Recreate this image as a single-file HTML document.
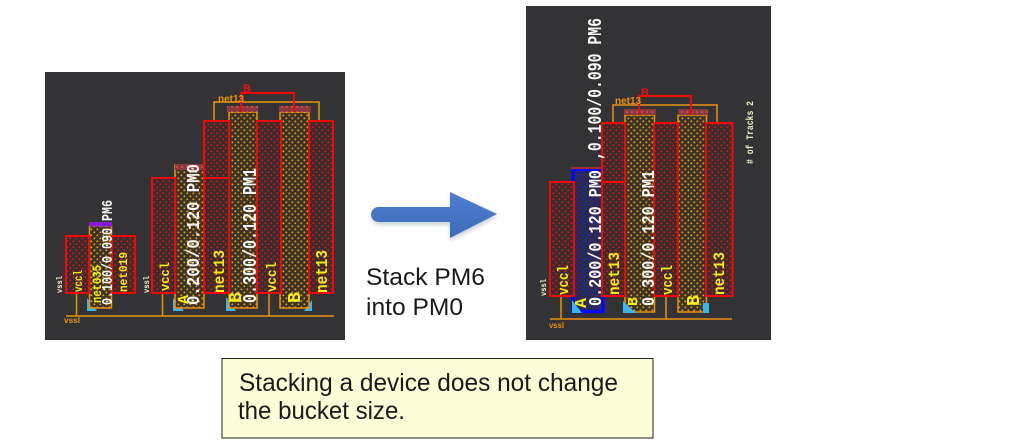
<!DOCTYPE html>
<html>
<head>
<meta charset="utf-8">
<style>
html,body{margin:0;padding:0;background:#fff;width:1013px;height:441px;overflow:hidden}
svg{display:block}
.w{font-family:"Liberation Mono",monospace;font-weight:bold;fill:#f8f8f2}
.y{font-family:"Liberation Mono",monospace;font-weight:bold;fill:#f6ee10}
.s{font-family:"Liberation Sans",sans-serif;fill:#1a1a1a}
.c{font-family:"Liberation Mono",monospace;font-weight:bold;fill:#f2f0c4}
</style>
</head>
<body>
<svg width="1013" height="441" viewBox="0 0 1013 441" xmlns="http://www.w3.org/2000/svg">
<defs>
<pattern id="o" width="6" height="6" patternUnits="userSpaceOnUse"><rect width="6" height="6" fill="#38322b"/><rect x="0.5" y="0.5" width="1.7" height="1.7" fill="#f09c08"/><rect x="3.5" y="3.5" width="1.7" height="1.7" fill="#f09c08"/></pattern>
<pattern id="r" width="6" height="6" patternUnits="userSpaceOnUse"><rect width="6" height="6" fill="#382c2d"/><rect x="0.5" y="0.5" width="1.6" height="1.6" fill="#e81414"/><rect x="3.5" y="3.5" width="1.6" height="1.6" fill="#e81414"/></pattern>
<pattern id="b" width="6" height="6" patternUnits="userSpaceOnUse"><rect width="6" height="6" fill="#2c2c40"/><rect x="0.5" y="0.5" width="1.7" height="1.7" fill="#1c1cf0"/><rect x="3.5" y="3.5" width="1.7" height="1.7" fill="#1c1cf0"/></pattern>
<pattern id="h" width="5" height="5" patternUnits="userSpaceOnUse"><rect width="5" height="5" fill="#8a3a3c"/><rect x="1" y="1" width="2" height="2" fill="#c24a4a"/></pattern>
<linearGradient id="ag" x1="0" y1="0" x2="0" y2="1"><stop offset="0" stop-color="#4f7fd0"/><stop offset="1" stop-color="#3f6cbc"/></linearGradient>
<filter id="bl" x="-10%" y="-20%" width="120%" height="140%"><feGaussianBlur stdDeviation="2"/></filter>
</defs>

<!-- LEFT PANEL -->
<rect x="45" y="72" width="300" height="268" fill="#333335"/>
<g fill="none" stroke="#e8920c" stroke-width="1.5">
<path d="M66 316H334M76.500 293V316M162.500 293V316M269 293V316"/>
<path d="M214 121V102H319V121"/>
</g>
<polygon points="87,298 87,311 97,311" fill="#38b8f0"/>
<polygon points="173,298 173,311 184,311" fill="#38b8f0"/>
<polygon points="226,297 226,311 236,311" fill="#38b8f0"/>
<polygon points="304,311 312,311 312,300" fill="#38b8f0"/>
<g stroke="#e8920c" stroke-width="1.500">
<rect x="89.500" y="226" width="22" height="82" fill="url(#o)"/>
<rect x="175" y="165" width="29" height="143" fill="url(#o)"/>
<rect x="229" y="112" width="28" height="196" fill="url(#o)"/>
<rect x="280" y="112" width="29" height="196" fill="url(#o)"/>
</g>
<rect x="89" y="222" width="23" height="4.500" fill="#8a18d8"/>
<rect x="175" y="164" width="29" height="6" fill="url(#h)"/>
<rect x="227" y="106" width="31" height="6" fill="url(#h)"/>
<rect x="279" y="106" width="32" height="6" fill="url(#h)"/>
<g stroke="#f00808" stroke-width="2" fill="url(#r)">
<rect x="66" y="236" width="23" height="57"/>
<rect x="112" y="236" width="23" height="57"/>
<rect x="152" y="178" width="23" height="115"/>
<rect x="204" y="121" width="25" height="172"/>
<rect x="257" y="121" width="24" height="172"/>
<rect x="309" y="121" width="24" height="172"/>
</g>
<path d="M204 178H229M241 112V93H294V112" fill="none" stroke="#f00808" stroke-width="2"/>
<text class="s" x="243" y="92" font-size="11" font-weight="bold" style="fill:#ee1010">B</text>
<text class="s" x="218" y="102" font-size="10" font-weight="bold" style="fill:#e8920c">net13</text>
<text class="s" x="64" y="323" font-size="8" font-weight="bold" style="fill:#e8920c" textLength="16" lengthAdjust="spacingAndGlyphs">vssl</text>

<text class="w" transform="translate(112,305) rotate(-90)" font-size="15" textLength="105" lengthAdjust="spacingAndGlyphs">0.100/0.090 PM6</text>
<text class="w" transform="translate(199,305) rotate(-90)" font-size="18" textLength="141" lengthAdjust="spacingAndGlyphs">0.200/0.120 PM0</text>
<text class="w" transform="translate(256,303) rotate(-90)" font-size="19" textLength="135" lengthAdjust="spacingAndGlyphs">0.300/0.120 PM1</text>
<text class="y" transform="translate(82,292) rotate(-90)" font-size="12" textLength="22" lengthAdjust="spacingAndGlyphs">vccl</text>
<text class="y" transform="translate(101,303) rotate(-90)" font-size="13" textLength="38" lengthAdjust="spacingAndGlyphs">net035</text>
<text class="y" transform="translate(127,292) rotate(-90)" font-size="12" textLength="40" lengthAdjust="spacingAndGlyphs">net019</text>
<text class="y" transform="translate(169,291) rotate(-90)" font-size="13" textLength="29" lengthAdjust="spacingAndGlyphs">vccl</text>
<text class="y" transform="translate(188,304) rotate(-90)" font-size="15" textLength="9" lengthAdjust="spacingAndGlyphs">A</text>
<text class="y" transform="translate(224,293) rotate(-90)" font-size="16" textLength="43" lengthAdjust="spacingAndGlyphs">net13</text>
<text class="y" transform="translate(241,303) rotate(-90)" font-size="18" textLength="11" lengthAdjust="spacingAndGlyphs">B</text>
<text class="y" transform="translate(276,292) rotate(-90)" font-size="14" textLength="30" lengthAdjust="spacingAndGlyphs">vccl</text>
<text class="y" transform="translate(300,303) rotate(-90)" font-size="18" textLength="11" lengthAdjust="spacingAndGlyphs">B</text>
<text class="y" transform="translate(327,293) rotate(-90)" font-size="17" textLength="43" lengthAdjust="spacingAndGlyphs">net13</text>
<text class="c" transform="translate(62,293) rotate(-90)" font-size="8" textLength="17" lengthAdjust="spacingAndGlyphs">vssl</text>
<text class="c" transform="translate(149,293) rotate(-90)" font-size="8" textLength="17" lengthAdjust="spacingAndGlyphs">vssl</text>

<!-- ARROW -->
<path d="M379 210H450V195L497 217L450 241V225H379A7.500 7.500 0 0 1 379 210Z" fill="#9aa" opacity="0.5" filter="url(#bl)"/>
<path d="M378.500 207H450V192L497 214L450 238V222H378.500A7.500 7.500 0 0 1 378.500 207Z" fill="url(#ag)"/>
<text class="s" x="366" y="285" font-size="24" textLength="119" lengthAdjust="spacingAndGlyphs">Stack PM6</text>
<text class="s" x="366" y="315" font-size="24" textLength="97" lengthAdjust="spacingAndGlyphs">into PM0</text>

<!-- RIGHT PANEL -->
<rect x="526" y="6" width="245" height="334" fill="#333335"/>
<g fill="none" stroke="#e8920c" stroke-width="1.500">
<path d="M550 319H732M561 296V319M666 296V319"/>
<path d="M613 123V105H717V123"/>
</g>
<rect x="573" y="169.500" width="30" height="142" fill="url(#b)" stroke="#0808f8" stroke-width="3.500"/>
<rect x="571" y="167" width="32" height="2" fill="#a03030"/>
<g stroke="#e8920c" stroke-width="1.500">
<rect x="625" y="115" width="29.500" height="197" fill="url(#o)"/>
<rect x="678" y="115" width="28.500" height="197" fill="url(#o)"/>
</g>
<polygon points="572,300 572,313 582,313" fill="#38b8f0"/>
<polygon points="623,301 623,313 636,313" fill="#38b8f0"/>
<rect x="703" y="303" width="6" height="10" fill="#38b8f0"/>
<rect x="624" y="109" width="32" height="6" fill="url(#h)"/>
<rect x="678" y="109" width="30" height="6" fill="url(#h)"/>
<g stroke="#f00808" stroke-width="2" fill="url(#r)">
<rect x="550" y="182" width="24" height="114"/>
<rect x="602" y="123" width="23" height="173"/>
<rect x="654" y="123" width="24" height="173"/>
<rect x="706" y="123" width="26.500" height="173"/>
</g>
<path d="M602 182H625M639 115V96H691V115" fill="none" stroke="#f00808" stroke-width="2"/>
<text class="s" x="641" y="96" font-size="11" font-weight="bold" style="fill:#ee1010">B</text>
<text class="s" x="615" y="104" font-size="10" font-weight="bold" style="fill:#e8920c">net13</text>
<text class="s" x="549" y="328" font-size="8" font-weight="bold" style="fill:#e8920c" textLength="15" lengthAdjust="spacingAndGlyphs">vssl</text>

<text class="w" transform="translate(601,160) rotate(-90)" font-size="19" textLength="142" lengthAdjust="spacingAndGlyphs">,0.100/0.090 PM6</text>
<text class="w" transform="translate(601,306) rotate(-90)" font-size="18" textLength="136" lengthAdjust="spacingAndGlyphs">0.200/0.120 PM0</text>
<text class="w" transform="translate(654,306) rotate(-90)" font-size="18" textLength="136" lengthAdjust="spacingAndGlyphs">0.300/0.120 PM1</text>
<text class="y" transform="translate(568,295) rotate(-90)" font-size="15" textLength="30" lengthAdjust="spacingAndGlyphs">vccl</text>
<text class="y" transform="translate(586,308) rotate(-90)" font-size="17" textLength="10" lengthAdjust="spacingAndGlyphs">A</text>
<text class="y" transform="translate(619,295) rotate(-90)" font-size="16" textLength="43" lengthAdjust="spacingAndGlyphs">net13</text>
<text class="y" transform="translate(637,306) rotate(-90)" font-size="14" textLength="9" lengthAdjust="spacingAndGlyphs">B</text>
<text class="y" transform="translate(672,295) rotate(-90)" font-size="15" textLength="30" lengthAdjust="spacingAndGlyphs">vccl</text>
<text class="y" transform="translate(699,306) rotate(-90)" font-size="18" textLength="11" lengthAdjust="spacingAndGlyphs">B</text>
<text class="y" transform="translate(724,295) rotate(-90)" font-size="16" textLength="43" lengthAdjust="spacingAndGlyphs">net13</text>
<text class="c" transform="translate(546,296) rotate(-90)" font-size="8" textLength="17" lengthAdjust="spacingAndGlyphs">vssl</text>
<text class="c" transform="translate(753,164) rotate(-90)" font-size="10" textLength="63" lengthAdjust="spacingAndGlyphs"># of Tracks 2</text>

<!-- NOTE -->
<rect x="222" y="358.500" width="431" height="79.500" fill="#fdfed8" stroke="#222" stroke-width="1"/>
<text class="s" x="239" y="391" font-size="25" textLength="379" lengthAdjust="spacingAndGlyphs">Stacking a device does not change</text>
<text class="s" x="238" y="419" font-size="25" textLength="167" lengthAdjust="spacingAndGlyphs">the bucket size.</text>
</svg>
</body>
</html>
